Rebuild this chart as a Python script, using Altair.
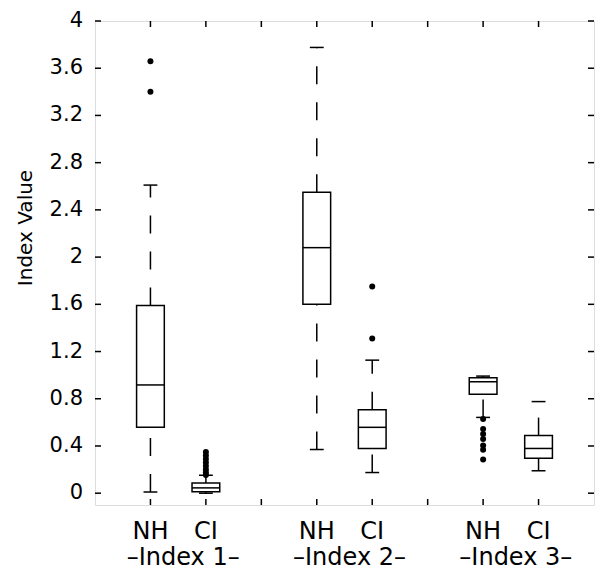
import altair as alt
import pandas as pd

# ---- data ----
positions = [1, 2, 4, 5, 7, 8]
category_labels = ["NH", "CI", "NH", "CI", "NH", "CI"]
lower_whisker = [0.01, 0.0, 0.37, 0.175, 0.642, 0.19]
q1 = [0.558, 0.012, 1.60, 0.379, 0.838, 0.297]
median = [0.917, 0.045, 2.08, 0.558, 0.944, 0.379]
q3 = [1.59, 0.087, 2.55, 0.707, 0.978, 0.488]
upper_whisker = [2.61, 0.152, 3.776, 1.127, 0.992, 0.776]

outlier_pos = [1, 1,
               2, 2, 2, 2, 2, 2, 2, 2,
               5, 5,
               7, 7, 7, 7, 7, 7, 7]
outlier_val = [3.66, 3.40,
               0.155, 0.175, 0.20, 0.23, 0.26, 0.29, 0.32, 0.35,
               1.75, 1.31,
               0.628, 0.544, 0.502, 0.460, 0.404, 0.368, 0.286]

group_pos = [1.5, 4.5, 7.5]
group_labels = ["\u2013Index 1\u2013", "\u2013Index 2\u2013", "\u2013Index 3\u2013"]

y_ticks = [0, 0.4, 0.8, 1.2, 1.6, 2, 2.4, 2.8, 3.2, 3.6, 4]
y_tick_labels = ["0", "0.4", "0.8", "1.2", "1.6", "2", "2.4", "2.8", "3.2", "3.6", "4"]
x_ticks = [1, 2, 3, 4, 5, 6, 7, 8]
y_title = ["Index Value"]

FONT = "DejaVu Sans"

box_df = pd.DataFrame({"pos": positions, "lab": category_labels, "lo": lower_whisker,
                       "q1": q1, "med": median, "q3": q3, "hi": upper_whisker})
out_df = pd.DataFrame({"pos": outlier_pos, "val": outlier_val})
grp_df = pd.DataFrame({"pos": group_pos, "lab": group_labels})
yt_df = pd.DataFrame({"v": y_ticks, "lab": y_tick_labels})
xt_df = pd.DataFrame({"p": x_ticks})
title_df = pd.DataFrame({"t": y_title})

W, H = 499, 484
TOP = 13
xs = alt.Scale(domain=[0, 9], nice=False, zero=False)
ys = alt.Scale(domain=[-0.1, 4], nice=False, zero=False)
SW = 1.5

base = alt.Chart(box_df).transform_calculate(
    xl="datum.pos - 0.25", xr="datum.pos + 0.25",
    cl="datum.pos - 0.125", cr="datum.pos + 0.125")

boxes = base.mark_rect(fillOpacity=0, stroke="black", strokeWidth=SW).encode(
    x=alt.X("xl:Q", scale=xs, axis=None), x2="xr:Q",
    y=alt.Y("q1:Q", scale=ys, axis=None), y2="q3:Q")

medians = base.mark_rule(color="black", strokeWidth=SW).encode(
    x=alt.X("xl:Q", scale=xs, axis=None), x2="xr:Q",
    y=alt.Y("med:Q", scale=ys, axis=None))

dash = [18, 18]
low_wh = base.mark_rule(color="black", strokeWidth=SW, strokeDash=dash).encode(
    x=alt.X("pos:Q", scale=xs, axis=None),
    y=alt.Y("lo:Q", scale=ys, axis=None), y2="q1:Q")
up_wh = base.mark_rule(color="black", strokeWidth=SW, strokeDash=dash).encode(
    x=alt.X("pos:Q", scale=xs, axis=None),
    y=alt.Y("q3:Q", scale=ys, axis=None), y2="hi:Q")

low_cap = base.mark_rule(color="black", strokeWidth=SW).encode(
    x=alt.X("cl:Q", scale=xs, axis=None), x2="cr:Q",
    y=alt.Y("lo:Q", scale=ys, axis=None))
up_cap = base.mark_rule(color="black", strokeWidth=SW).encode(
    x=alt.X("cl:Q", scale=xs, axis=None), x2="cr:Q",
    y=alt.Y("hi:Q", scale=ys, axis=None))

outliers = alt.Chart(out_df).mark_circle(color="black", opacity=1, size=36).encode(
    x=alt.X("pos:Q", scale=xs, axis=None),
    y=alt.Y("val:Q", scale=ys, axis=None))

TL = 6
yt_left = alt.Chart(yt_df).mark_rule(color="black", strokeWidth=SW).encode(
    x=alt.value(0), x2=alt.value(TL), y=alt.Y("v:Q", scale=ys, axis=None))
yt_right = alt.Chart(yt_df).mark_rule(color="black", strokeWidth=SW).encode(
    x=alt.value(W - TL), x2=alt.value(W), y=alt.Y("v:Q", scale=ys, axis=None))
xt_bot = alt.Chart(xt_df).mark_rule(color="black", strokeWidth=SW).encode(
    x=alt.X("p:Q", scale=xs, axis=None), y=alt.value(H), y2=alt.value(H - TL))
xt_top = alt.Chart(xt_df).mark_rule(color="black", strokeWidth=SW).encode(
    x=alt.X("p:Q", scale=xs, axis=None), y=alt.value(0), y2=alt.value(TL))

yt_text = alt.Chart(yt_df).mark_text(font=FONT, fontSize=21, color="black",
                                     baseline="middle", align="right").encode(
    x=alt.value(-12), y=alt.Y("v:Q", scale=ys, axis=None), text="lab:N")

title_text = alt.Chart(title_df).mark_text(font=FONT, fontSize=20, color="black",
                                           baseline="alphabetic", align="center",
                                           angle=270).encode(
    x=alt.value(-63), y=alt.value(207), text="t:N")

cat_text = alt.Chart(box_df).mark_text(font=FONT, fontSize=24, color="black",
                                       baseline="alphabetic", align="center").encode(
    x=alt.X("pos:Q", scale=xs, axis=None), y=alt.value(518), text="lab:N")
grp_text = alt.Chart(grp_df).mark_text(font=FONT, fontSize=24, color="black",
                                       baseline="alphabetic", align="center", dx=5).encode(
    x=alt.X("pos:Q", scale=xs, axis=None), y=alt.value(544), text="lab:N")

chart = alt.layer(boxes, medians, low_wh, up_wh, low_cap, up_cap, outliers,
                  yt_left, yt_right, xt_bot, xt_top, yt_text, title_text,
                  cat_text, grp_text).properties(
    width=W, height=H, autosize="none",
    padding={"left": 87, "top": TOP, "right": 2, "bottom": 66},
).configure_view(stroke="black", strokeWidth=SW).configure(background="white")

chart.save("out.html", embed_options={"renderer": "svg", "actions": False})
